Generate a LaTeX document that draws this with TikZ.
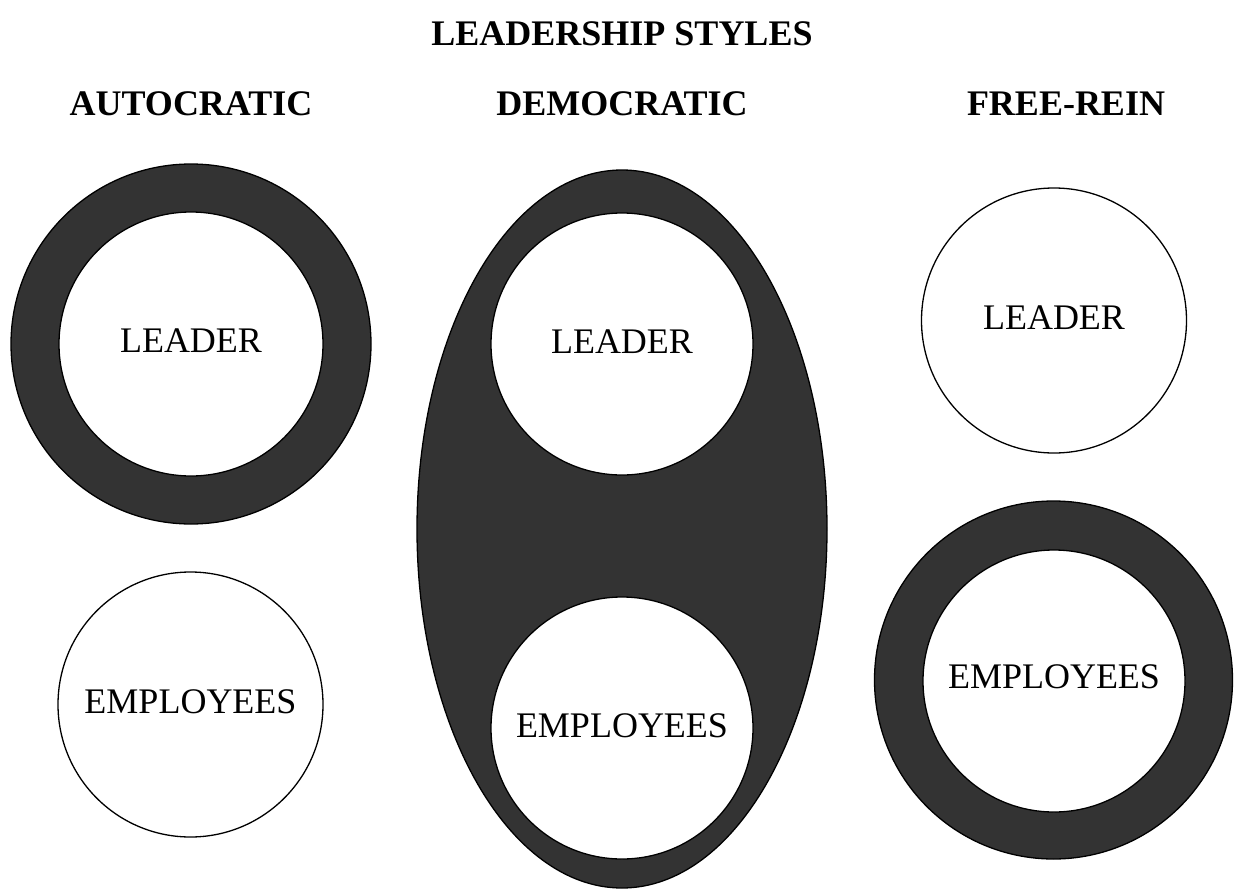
\documentclass[tikz,border=0pt]{standalone}
\usepackage{fontspec}
\setmainfont{Liberation Serif}
\usetikzlibrary{shapes.geometric}
\definecolor{band}{HTML}{333333}
\begin{document}
\begin{tikzpicture}[x=1pt,y=-1pt,
  ring/.style={circle,draw=black,line width=1.3pt,fill=band,inner sep=0pt,outer sep=0pt,minimum size=360pt},
  disc/.style={circle,draw=black,line width=1.3pt,fill=white,inner sep=0pt,outer sep=0pt,minimum size=#1},
  disc/.default=264pt,
  oval/.style={ellipse,draw=black,line width=1.3pt,fill=band,inner sep=0pt,outer sep=0pt,minimum width=410pt,minimum height=718pt},
  word/.style={anchor=base,inner sep=0pt,font=\fontsize{36}{40}\selectfont},
  head/.style={anchor=base,inner sep=0pt,font=\fontsize{36}{40}\selectfont\bfseries}]
\useasboundingbox (0,0) rectangle (1235,889);

% headings
\node[head] (title) at (622,45) {LEADERSHIP STYLES};
\node[head] (hauto) at (191,115) {AUTOCRATIC};
\node[head] (hdemo) at (622,115) {DEMOCRATIC};
\node[head] (hfree) at (1066,115) {FREE-REIN};

% autocratic: leader enclosed, employees apart
\node[ring] (aring) at (191,344) {};
\node[disc] (alead) at (191,344) {};
\node[word] (aleadt) at ([yshift=-8.5pt]alead.center) {LEADER};
\node[disc=265pt] (aemp) at (190.5,704.5) {};
\node[word] (aempt) at ([yshift=-8.5pt]aemp.center) {EMPLOYEES};

% democratic: leader and employees inside one shared oval
\node[oval] (doval) at (622,529) {};
\node[disc=262pt] (dlead) at (622,344) {};
\node[word] (dleadt) at ([yshift=-9pt]dlead.center) {LEADER};
\node[disc=262pt] (demp) at (622,728) {};
\node[word] (dempt) at ([yshift=-9pt]demp.center) {EMPLOYEES};

% free-rein: leader apart, employees enclosed
\node[disc=265pt] (flead) at (1054,320.5) {};
\node[word] (fleadt) at ([yshift=-8.5pt]flead.center) {LEADER};
\node[ring,minimum size=358pt] (fring) at (1053.5,680) {};
\node[disc=262pt] (femp) at (1054,681) {};
\node[word] (fempt) at ([yshift=-7pt]femp.center) {EMPLOYEES};
\end{tikzpicture}
\end{document}
